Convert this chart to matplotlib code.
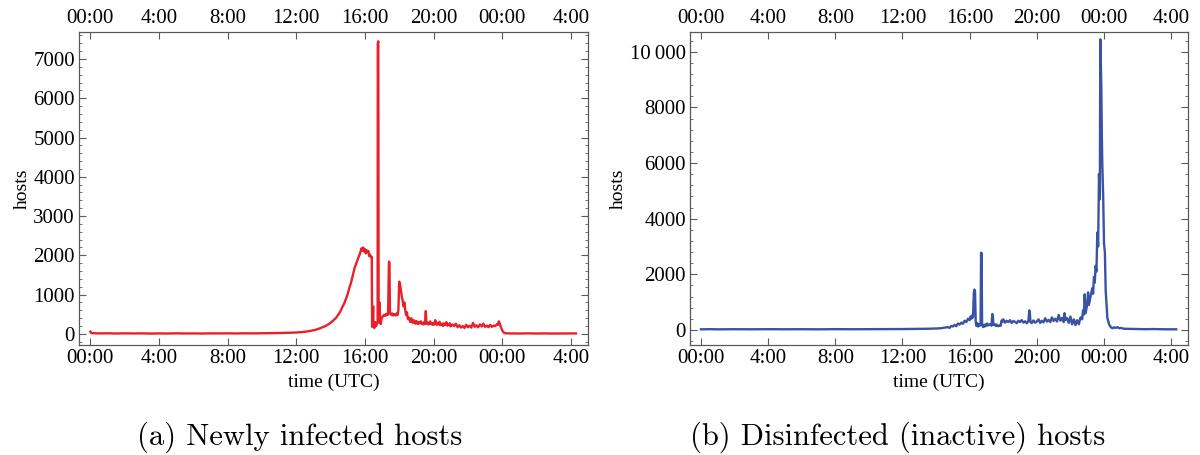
import matplotlib.pyplot as plt
from matplotlib.ticker import MultipleLocator

# newly infected hosts (hours since 00:00 UTC, hosts)
inf_t = [0.00, 0.05, 0.5, 1.0, 1.5, 2.0, 2.5, 3.0, 3.5, 4.0, 4.5, 5.0, 5.5, 6.0, 6.5,
         7.0, 7.5, 8.0, 8.5, 9.0, 9.5, 10.0, 10.5, 11.0, 11.5, 12.0, 12.3, 12.6, 12.9,
         13.1, 13.3, 13.5, 13.7, 13.9, 14.1, 14.3, 14.5, 14.6, 14.7, 14.8, 14.9, 15.0,
         15.1, 15.2, 15.3, 15.4, 15.5, 15.6, 15.7, 15.8, 15.85, 15.9, 15.95, 16.0,
         16.05, 16.1, 16.15, 16.2, 16.25, 16.3, 16.35, 16.4, 16.42, 16.45, 16.48,
         16.5, 16.55, 16.6, 16.65, 16.7, 16.74, 16.75, 16.78, 16.8, 16.85, 16.88,
         16.92, 16.97, 17.0, 17.05, 17.1, 17.15, 17.2, 17.25, 17.3, 17.35, 17.4,
         17.43, 17.46, 17.5, 17.55, 17.6, 17.65, 17.7, 17.75, 17.8, 17.85, 17.9,
         17.95, 18.0, 18.05, 18.1, 18.15, 18.2, 18.25, 18.3, 18.35, 18.4, 18.45,
         18.5, 18.55, 18.6, 18.65, 18.7, 18.75, 18.8, 18.85, 18.9, 18.95, 19.0,
         19.05, 19.1, 19.15, 19.2, 19.25, 19.3, 19.35, 19.4, 19.45, 19.5, 19.55,
         19.58, 19.65, 19.7, 19.75, 19.8, 19.85, 19.9, 19.95, 20.0, 20.05, 20.1,
         20.15, 20.2, 20.25, 20.3, 20.35, 20.4, 20.5, 20.55, 20.6, 20.65, 20.7,
         20.75, 20.8, 20.85, 20.9, 20.95, 21.0, 21.1, 21.2, 21.3, 21.4, 21.5, 21.6,
         21.7, 21.8, 21.9, 22.0, 22.1, 22.2, 22.3, 22.4, 22.5, 22.6, 22.7, 22.8,
         22.9, 23.0, 23.1, 23.2, 23.3, 23.4, 23.5, 23.6, 23.7, 23.75, 23.8, 23.85,
         23.9, 24.0, 24.1, 24.2, 24.5, 25.0, 25.5, 26.0, 26.5, 27.0, 27.5, 28.0, 28.3]
inf_v = [60, 20, 12, 15, 10, 14, 11, 13, 9, 12, 10, 14, 11, 12, 10,
         13, 12, 14, 11, 15, 13, 16, 18, 22, 28, 35, 45, 60, 85,
         100, 130, 165, 200, 250, 320, 400, 520, 600, 700, 780, 900, 1020,
         1180, 1320, 1500, 1680, 1800, 1920, 2030, 2180, 2120, 2200, 2100, 2160,
         2050, 2130, 2080, 2110, 1980, 2020, 1950, 1960, 180, 320, 700,
         260, 150, 300, 200, 260, 280, 7400, 7450, 300, 800, 350,
         250, 380, 420, 450, 480, 460, 500, 470, 520, 490, 1840,
         1800, 560, 500, 480, 520, 470, 500, 490, 470, 520, 480,
         600, 1330, 1250, 1100, 950, 850, 700, 800, 600, 480, 550,
         380, 420, 350, 300, 400, 320, 280, 350, 300, 260, 330,
         280, 250, 300, 270, 320, 260, 280, 240, 300, 250, 580,
         260, 290, 240, 260, 320, 250, 270, 230, 280, 240, 350,
         260, 230, 280, 240, 310, 220, 260, 200, 270, 230, 240,
         300, 210, 250, 220, 270, 190, 240, 200, 260, 170, 220, 160,
         200, 150, 230, 170, 210, 160, 280, 180, 220, 170, 240, 190,
         260, 180, 210, 170, 230, 180, 210, 200, 250, 230, 320, 280,
         200, 90, 30, 15, 12, 10, 13, 10, 12, 9, 11, 10, 12]

# disinfected (inactive) hosts
dis_t = [0.0, 0.5, 1.0, 2.0, 3.0, 4.0, 5.0, 6.0, 7.0, 8.0, 9.0, 10.0, 11.0, 12.0,
         13.0, 13.5, 14.0, 14.3, 14.5, 14.7, 14.8, 14.9, 15.0, 15.1, 15.2, 15.3,
         15.4, 15.5, 15.6, 15.7, 15.8, 15.9, 16.0, 16.05, 16.1, 16.15, 16.2, 16.25,
         16.28, 16.32, 16.36, 16.4, 16.45, 16.5, 16.55, 16.6, 16.65, 16.68, 16.71,
         16.74, 16.8, 16.85, 16.9, 16.95, 17.0, 17.05, 17.1, 17.2, 17.3, 17.35,
         17.38, 17.42, 17.5, 17.55, 17.6, 17.7, 17.8, 17.85, 17.9, 17.95, 18.0,
         18.1, 18.2, 18.3, 18.4, 18.5, 18.6, 18.7, 18.8, 18.9, 19.0, 19.1, 19.2,
         19.3, 19.4, 19.5, 19.55, 19.58, 19.62, 19.7, 19.8, 19.9, 20.0, 20.1,
         20.2, 20.3, 20.4, 20.5, 20.6, 20.7, 20.8, 20.9, 21.0, 21.1, 21.2, 21.3,
         21.4, 21.5, 21.6, 21.65, 21.7, 21.8, 21.9, 22.0, 22.1, 22.2, 22.3, 22.4,
         22.5, 22.6, 22.7, 22.75, 22.8, 22.85, 22.9, 23.0, 23.05, 23.1, 23.2,
         23.3, 23.35, 23.4, 23.45, 23.5, 23.55, 23.6, 23.65, 23.7, 23.75, 23.78,
         23.81, 23.84, 23.87, 23.9, 23.95, 24.0, 24.05, 24.1, 24.15, 24.2, 24.3,
         24.4, 24.5, 24.6, 24.7, 24.8, 24.9, 25.0, 25.2, 25.5, 26.0, 26.5, 27.0,
         27.5, 28.0, 28.3]
dis_v = [20, 25, 20, 24, 21, 25, 22, 24, 20, 26, 23, 25, 28, 30,
         35, 40, 50, 60, 80, 100, 70, 140, 120, 180, 130, 230,
         190, 260, 220, 330, 280, 400, 350, 480, 400, 520, 450, 1350,
         1450, 1400, 300, 150, 250, 120, 200, 150, 180, 2780, 2750,
         200, 100, 180, 120, 200, 150, 230, 160, 200, 150, 570,
         500, 180, 200, 140, 190, 130, 170, 150, 340, 300, 380,
         260, 330, 280, 350, 250, 320, 290, 240, 330, 280, 350, 260,
         310, 240, 320, 700, 650, 280, 240, 340, 260, 300, 380,
         250, 330, 270, 420, 300, 360, 280, 450, 320, 400, 300, 540,
         330, 430, 280, 600, 350, 420, 250, 480, 200, 380, 170, 350,
         200, 450, 380, 700, 550, 1280, 600, 900, 1350, 900, 1200,
         1500, 1300, 1900, 1700, 2300, 2100, 3500, 3000, 5600, 4700, 10450,
         9500, 8700, 7000, 5900, 4800, 3100, 2800, 1400, 900, 430, 200,
         100, 60, 90, 70, 100, 60, 70, 40, 35, 30, 25, 30,
         22, 20, 20]

time_ticks = [0, 4, 8, 12, 16, 20, 24, 28]
time_labels = ["00:00", "4:00", "8:00", "12:00", "16:00", "20:00", "00:00", "4:00"]
inf_yticks = [0, 1000, 2000, 3000, 4000, 5000, 6000, 7000]
dis_yticks = [0, 2000, 4000, 6000, 8000, 10000]
dis_ylabels = ["0", "2000", "4000", "6000", "8000", "10\u2009000"]

plt.rcParams['font.family'] = ['Liberation Serif', 'DejaVu Serif']

fig = plt.figure(figsize=(12, 4.55), dpi=100)
ax1 = fig.add_axes([0.066, 0.242, 0.424, 0.688])
ax2 = fig.add_axes([0.575, 0.242, 0.415, 0.688])


def style(ax, yticks, ylabels, minor):
    ax.set_xlim(-0.65, 29.0)
    ax.set_xticks(time_ticks)
    ax.set_xticklabels(time_labels)
    ax.set_yticks(yticks)
    ax.set_yticklabels(ylabels)
    ax.yaxis.set_minor_locator(MultipleLocator(minor))
    ax.tick_params(which="both", direction="in", top=True, right=True,
                   labeltop=True, color="0.35", labelsize=15, pad=3)
    ax.tick_params(which="major", length=5, width=0.8)
    ax.tick_params(which="minor", length=2.5, width=0.6)
    for s in ax.spines.values():
        s.set_color("0.35")
        s.set_linewidth(0.9)
    ax.set_xlabel("time (UTC)", fontsize=14, labelpad=4)
    ax.set_ylabel("hosts", fontsize=14, labelpad=2)


ax1.plot(inf_t, inf_v, color="#e8202a", lw=1.7)
ax1.set_ylim(-280, 7690)
style(ax1, inf_yticks, [str(v) for v in inf_yticks], 200)

ax2.plot(dis_t, dis_v, color="#3953a4", lw=1.7)
ax2.set_ylim(-540, 10720)
style(ax2, dis_yticks, dis_ylabels, 400)

fig.text(0.25, 0.04, "(a) Newly infected hosts", family="cmr10",
         fontsize=22, ha="center", va="center")
fig.text(0.748, 0.04, "(b) Disinfected (inactive) hosts", family="cmr10",
         fontsize=22, ha="center", va="center")

fig.savefig("out.png", dpi=100)
